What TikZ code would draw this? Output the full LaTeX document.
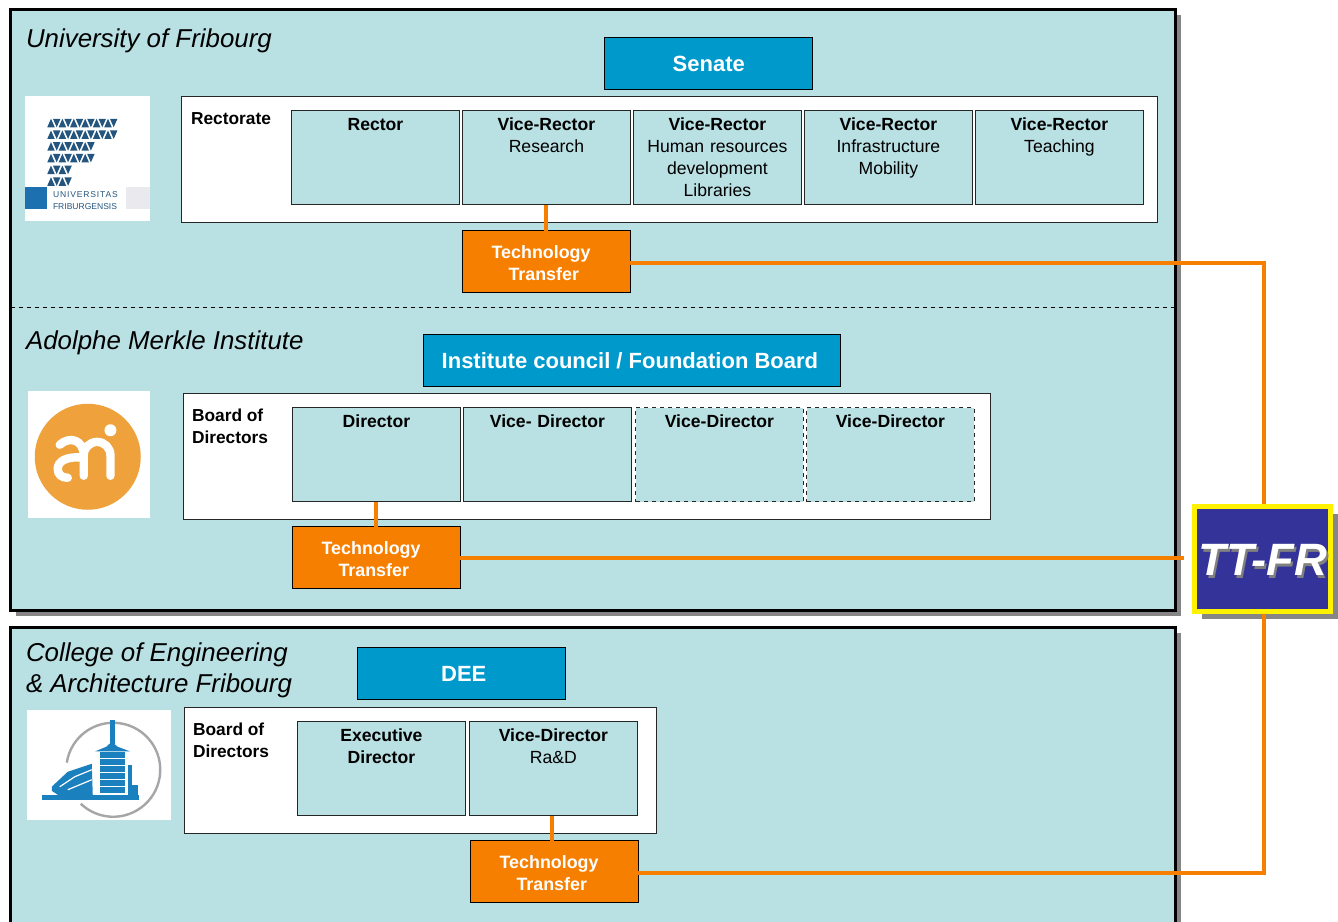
\documentclass[tikz,border=0pt]{standalone}
\usepackage{fontspec}
\setmainfont{Liberation Sans}
\usetikzlibrary{shadows}

\definecolor{panelblue}{HTML}{B9E0E3}
\definecolor{headblue}{HTML}{0099CC}
\definecolor{ttorange}{HTML}{F77F00}
\definecolor{ttnavy}{HTML}{333399}
\definecolor{friblue}{HTML}{24557F}
\definecolor{amiorange}{HTML}{EFA23C}
\definecolor{hesblue}{HTML}{1B80BE}

\newcommand{\ttlabel}{\rule{0pt}{11.5pt}Technology\hspace*{8pt}\\Transfer\hspace*{4pt}}

\tikzset{
  panel/.style={draw=black,line width=2.2pt,fill=panelblue,anchor=north west,inner sep=0pt,outer sep=0pt,
    drop shadow={shadow xshift=4pt,shadow yshift=-4pt,fill=gray!95,opacity=1}},
  title/.style={anchor=base west,inner sep=0pt,font=\fontsize{19.4}{23.25}\selectfont\itshape,align=left},
  headbox/.style={draw=black,line width=.7pt,fill=headblue,text=white,anchor=north west,inner sep=0pt,outer sep=0pt,
    minimum height=38.75pt,font=\fontsize{16.5}{20}\selectfont\bfseries},
  whitebox/.style={draw=black!85,line width=.8pt,fill=white,anchor=north west,inner sep=0pt,outer sep=0pt,minimum height=94pt},
  boardlabel/.style={anchor=base west,inner sep=0pt,align=left,font=\fontsize{13}{16.5}\selectfont\bfseries},
  rolebox/.style={draw=black!85,line width=.8pt,fill=panelblue,anchor=north west,inner sep=0pt,outer sep=0pt,
    text width=125.5pt,align=center,text height=14.75pt,text depth=55.75pt,font=\fontsize{13.2}{16.5}\selectfont},
  ttbox/.style={draw=black,line width=.8pt,fill=ttorange,text=white,anchor=north west,inner sep=0pt,outer sep=0pt,
    minimum width=125.5pt,minimum height=46.5pt,align=center,font=\fontsize{13.4}{16.5}\selectfont\bfseries},
  link/.style={draw=ttorange,line width=3pt}
}

\begin{document}
\begin{tikzpicture}[x=0.75pt,y=-0.75pt]
  \useasboundingbox (0.25,0.25) rectangle (1338.25,921.25);

  \node[panel,minimum width=873.75pt,minimum height=450.75pt] (upper) at (11,10) {};
  \node[panel,minimum width=873.75pt,minimum height=230pt] (lower) at (11,628) {};
  \coordinate (splitw) at (11,308);
  \draw[dashed,line width=.8pt] (splitw) -- (splitw -| upper.east);

  \node[title] (unititle) at (26,48) {University of Fribourg};
  \node[title] (amititle) at (26,350) {Adolphe Merkle Institute};
  \node[title] (heftitle) at (26,693) {College of Engineering\\\& Architecture Fribourg};

  \begin{scope}[every node/.style={headbox}]
    \node[minimum width=156pt] (senate) at (605,38) {Senate};
    \node[minimum width=312.75pt] (council) at (424,335) {\hspace*{-3.5pt}Institute council / Foundation Board};
    \node[minimum width=156pt] (dee) at (358,648) {\hspace*{3pt}DEE};
  \end{scope}

  \begin{scope}[every node/.style={whitebox}]
    \node[minimum width=732pt] (rectorate) at (182,97) {};
    \node[minimum width=605.25pt] (amiboard) at (184,394) {};
    \node[minimum width=354pt] (hefboard) at (185,708) {};
  \end{scope}

  \node[boardlabel] (rectlabel) at (191,125) {Rectorate};
  \node[boardlabel] (amilabel) at (192,444) {Board of\\Directors};
  \node[boardlabel] (heflabel) at (193,757.5) {Board of\\Directors};

  \begin{scope}[every node/.style={rolebox}]
    \node (rector) at (292,111) {\textbf{Rector}};
    \node (vrresearch) at (463,111) {\textbf{Vice-Rector}\\Research};
    \node (vrhuman) at (634,111) {\textbf{Vice-Rector}\\Human resources\\development\\Libraries};
    \node (vrinfra) at (805,111) {\textbf{Vice-Rector}\\Infrastructure\\Mobility};
    \node (vrteach) at (976,111) {\textbf{Vice-Rector}\\Teaching};

    \node (amidir) at (293,408) {\textbf{Director}};
    \node (amivice) at (464,408) {\textbf{Vice- Director}};
    \node[dashed] (amivicea) at (636,408) {\textbf{Vice-Director}};
    \node[dashed] (amiviceb) at (807,408) {\textbf{Vice-Director}};

    \node (hefdir) at (298,722) {\textbf{Executive}\\\textbf{Director}};
    \node (hefvice) at (470,722) {\textbf{Vice-Director}\\Ra\&D};
  \end{scope}

  \begin{scope}[every node/.style={ttbox}]
    \node (ttuni) at (463,231) {\ttlabel};
    \node (ttami) at (293,527) {\ttlabel};
    \node (tthef) at (471,841) {\ttlabel};
  \end{scope}

  % central office
  \node[draw=yellow,line width=3.75pt,fill=ttnavy,anchor=north west,inner sep=0pt,outer sep=1.9pt,
    minimum width=102pt,minimum height=78.75pt,
    drop shadow={shadow xshift=5.6pt,shadow yshift=-5.6pt,fill=gray!95,opacity=1}] (ttfr) at (1192,504) {};
  \node[text=gray,font=\fontsize{34}{34}\selectfont\bfseries\itshape] (ttfrshade) at ([xshift=2pt,yshift=-3pt]ttfr.center) {TT-FR};
  \node[text=white,font=\fontsize{34}{34}\selectfont\bfseries\itshape] (ttfrtext) at ([xshift=.5pt,yshift=-1pt]ttfr.center) {TT-FR};

  \begin{scope}[every edge/.style={link}]
    \path (vrresearch.south) edge (ttuni.north);
    \path (amidir.south) edge (ttami.north);
    \path ([xshift=-1pt]hefvice.south) edge ([xshift=-1pt]hefvice.south |- tthef.north);
  \end{scope}
  \draw[link] ([yshift=-1pt]ttuni.east) -| ([xshift=1.5pt]ttfr.north);
  \draw[link] ([yshift=-1pt]tthef.east) -| ([xshift=1.5pt]ttfr.south);
  \draw[link,shorten >=6pt] (ttami.east) -- (ttami.east -| ttfr.west);

  % Fribourg logo
  \fill[white] (25,96) rectangle (150,221);
  \foreach \row/\cells in {0/12,1/12,2/8,3/8,4/4,5/4} {
    \foreach \cell in {1,...,\cells} {
      \pgfmathsetmacro{\tx}{47.5+5.7*(\cell-1)}
      \pgfmathsetmacro{\ty}{119+11.7*\row}
      \ifodd\cell
        \fill[friblue] (\tx,\ty+8.5) -- ++(7.5,0) -- ++(-3.75,-8.5) -- cycle;
      \else
        \fill[friblue] (\tx,\ty) -- ++(7.5,0) -- ++(-3.75,8.5) -- cycle;
      \fi
    }
  }
  \fill[blue!10!friblue!30!hesblue] (25,187) rectangle (47,209);
  \fill[blue!12!gray!15] (126,187) rectangle (150,209);
  \node[anchor=north west,inner sep=0pt,text=friblue,align=left,font=\fontsize{6.4}{8.6}\selectfont] (unilogotext) at (53,192) {{\addfontfeature{LetterSpace=10}UNIVERSITAS}\\FRIBURGENSIS};

  % Merkle logo
  \fill[white] (28,391) rectangle (150,518);
  \fill[amiorange] (88,457) circle (39.75pt);
  \fill[white] (110.7,430.5) circle (4.5pt);
  \draw[white,line width=6.3pt,line cap=round] (84,476) -- (84,455.5) arc (180:360:13.35) -- (110.7,476);
  \draw[white,line width=6.3pt,line cap=round] (60,445) .. controls (70,436) and (84,440) .. (84,456);
  \draw[white,line width=6.3pt,line cap=round] (84,458) .. controls (66,456) and (58,462) .. (58,469) .. controls (58,475) and (62,478) .. (68,478);

  % College logo
  \fill[white] (27,710) rectangle (171,820);
  \draw[gray!70,line width=1.8pt] (113.5,770) ++(188.7:47) arc (188.7:493.7:47);
  \begin{scope}[hesblue]
    \fill (110,720) rectangle (115,744);
    \fill (95.7,751.5) -- (106.5,747) -- (112,742) -- (118,747) -- (130,751.5) -- cycle;
    \fill (100.7,752) rectangle (125,793);
    \fill (128,765) rectangle (132.5,795);
    \fill (132,785) rectangle (138,795);
    \fill (42,795) rectangle (139,800);
    \fill (52,791) -- (52,787) -- (68,772) -- (92,764) -- (93,795) -- (58,795) -- cycle;
  \end{scope}
  \foreach \ty in {759,766,773,780,787} {
    \draw[white,line width=.7pt] (100.7,\ty) -- (125,\ty);
  }
  \draw[white,line width=.9pt] (60,787) -- (75,777) -- (92,770);
  \draw[white,line width=.9pt] (68,790) -- (80,785) -- (92,780);
\end{tikzpicture}
\end{document}
